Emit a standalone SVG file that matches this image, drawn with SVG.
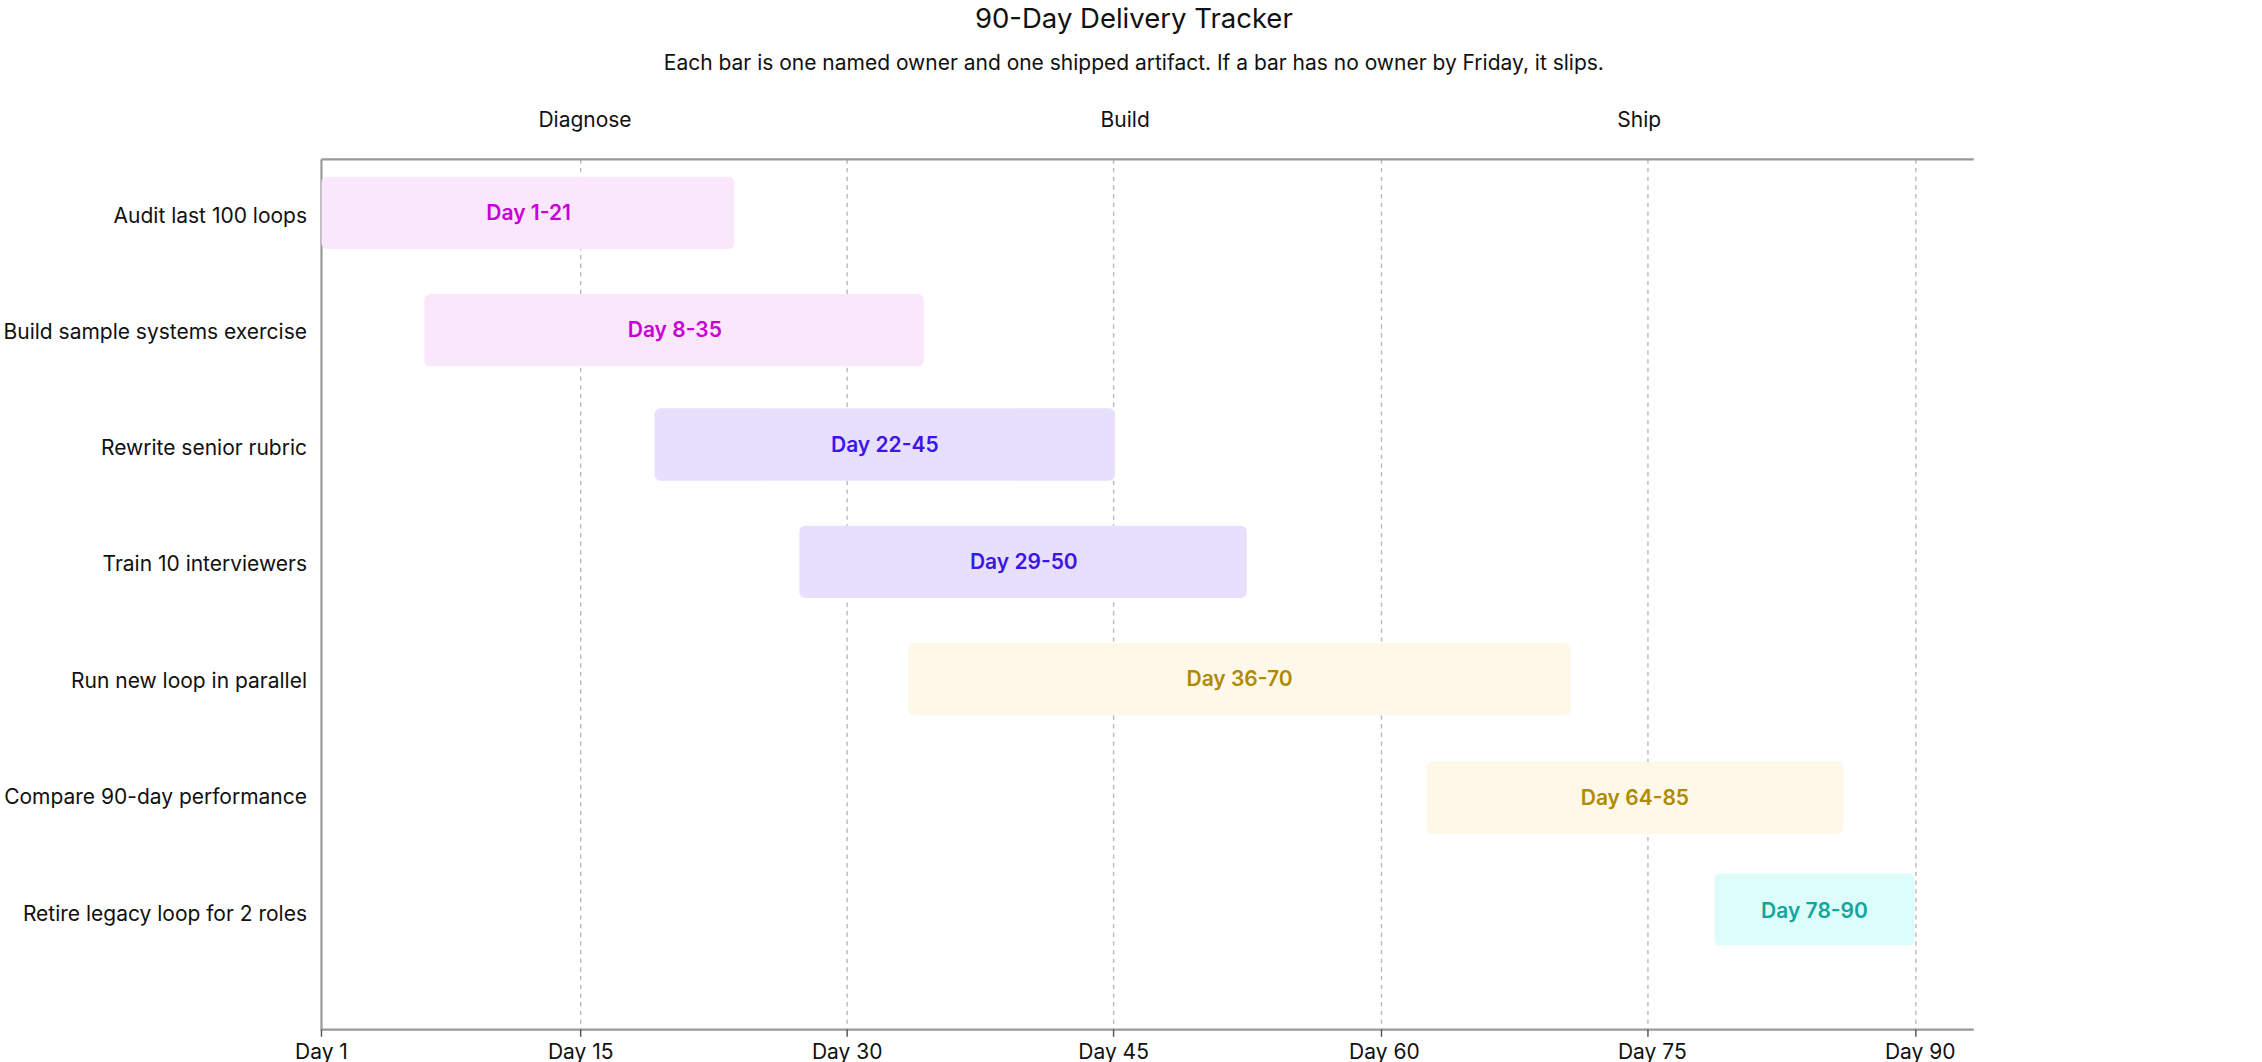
<svg xmlns="http://www.w3.org/2000/svg" width="2262" height="1062" viewBox="0 0 2262 1062">
<style>
text{font-family:Inter,"Noto Sans",sans-serif;fill:#111}
.t{font-size:19px;text-anchor:middle}
.s{font-size:14.5px;text-anchor:middle}
.l{font-size:14.5px;text-anchor:end}
.k{font-size:14.5px;text-anchor:middle}
.b{font-size:14.5px;font-weight:600;text-anchor:middle}
.g{stroke:#bbb;stroke-dasharray:3 3;stroke-width:1}
.ax{stroke:#999;stroke-width:1.5;fill:none}
</style>
<rect width="2262" height="1062" fill="#fff"/>
<g transform="scale(1.4481)">
<text class="t" x="783" y="19">90-Day Delivery Tracker</text>
<text class="s" x="783" y="48">Each bar is one named owner and one shipped artifact. If a bar has no owner by Friday, it slips.</text>
<g id="phases">
<text class="s" x="404" y="88">Diagnose</text>
<text class="s" x="777" y="88">Build</text>
<text class="s" x="1132" y="88">Ship</text>
</g>
<g id="grid">
<line class="g" x1="401" y1="110" x2="401" y2="711"/>
<line class="g" x1="585" y1="110" x2="585" y2="711"/>
<line class="g" x1="769" y1="110" x2="769" y2="711"/>
<line class="g" x1="954" y1="110" x2="954" y2="711"/>
<line class="g" x1="1138" y1="110" x2="1138" y2="711"/>
<line class="g" x1="1323" y1="110" x2="1323" y2="711"/>
</g>
<g id="axes">
<path class="ax" d="M222 110H1363M222 110V711H1363"/>
<path stroke="#555" d="M222 711v5M401 711v5M585 711v5M769 711v5M954 711v5M1138 711v5M1323 711v5"/>
<text class="k" x="222" y="731">Day 1</text>
<text class="k" x="401" y="731">Day 15</text>
<text class="k" x="585" y="731">Day 30</text>
<text class="k" x="769" y="731">Day 45</text>
<text class="k" x="956" y="731">Day 60</text>
<text class="k" x="1141" y="731">Day 75</text>
<text class="k" x="1326" y="731">Day 90</text>
</g>
<g id="labels">
<text class="l" x="212" y="154">Audit last 100 loops</text>
<text class="l" x="212" y="234">Build sample systems exercise</text>
<text class="l" x="212" y="314">Rewrite senior rubric</text>
<text class="l" x="212" y="394">Train 10 interviewers</text>
<text class="l" x="212" y="475">Run new loop in parallel</text>
<text class="l" x="212" y="555">Compare 90-day performance</text>
<text class="l" x="212" y="636">Retire legacy loop for 2 roles</text>
</g>
<g id="bar1"><rect x="222" y="122" width="285" height="50" rx="4" fill="#fbe7fb"/><text class="b" x="365" y="152" style="fill:#c800d6">Day 1-21</text></g>
<g id="bar2"><rect x="293" y="203" width="345" height="50" rx="4" fill="#fbe7fb"/><text class="b" x="466" y="233" style="fill:#c800d6">Day 8-35</text></g>
<g id="bar3"><rect x="452" y="282" width="318" height="50" rx="4" fill="#e8dffd"/><text class="b" x="611" y="312" style="fill:#3b16e8">Day 22-45</text></g>
<g id="bar4"><rect x="552" y="363" width="309" height="50" rx="4" fill="#e8dffd"/><text class="b" x="707" y="393" style="fill:#3b16e8">Day 29-50</text></g>
<g id="bar5"><rect x="627" y="444" width="458" height="50" rx="4" fill="#fef8e9"/><text class="b" x="856" y="474" style="fill:#b08a00">Day 36-70</text></g>
<g id="bar6"><rect x="985" y="526" width="288" height="50" rx="4" fill="#fef8e9"/><text class="b" x="1129" y="556" style="fill:#b08a00">Day 64-85</text></g>
<g id="bar7"><rect x="1184" y="603" width="138" height="50" rx="4" fill="#ddfdfb"/><text class="b" x="1253" y="634" style="fill:#11a69c">Day 78-90</text></g>
</g>
</svg>
